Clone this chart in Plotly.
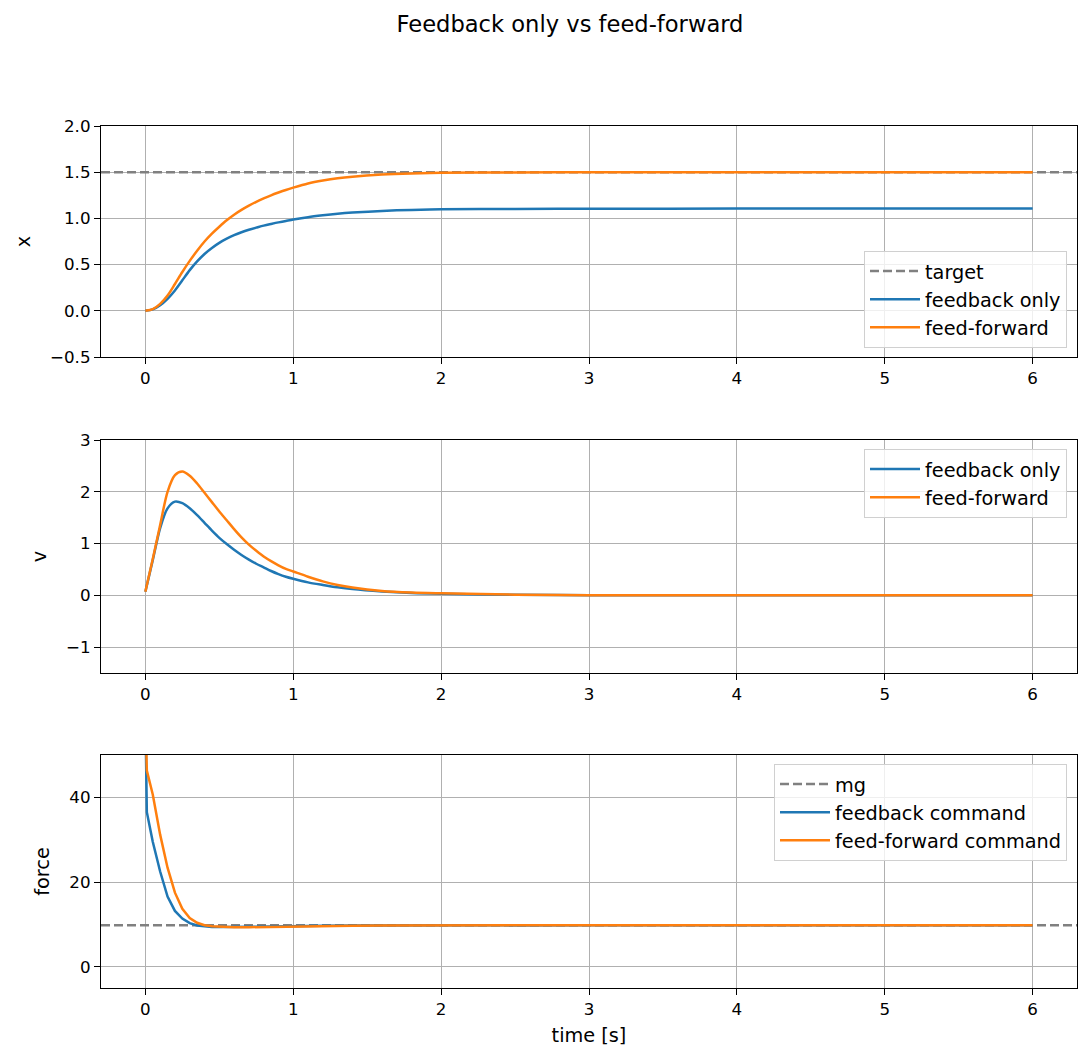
import plotly.graph_objects as go
from plotly.subplots import make_subplots

# ---- data ----
t = [0, 0.05, 0.1, 0.15, 0.2, 0.25, 0.3, 0.35, 0.4, 0.45, 0.5, 0.55, 0.6, 0.65, 0.7,
     0.75, 0.8, 0.85, 0.9, 0.95, 1.0, 1.1, 1.2, 1.3, 1.4, 1.6, 1.8, 2.0, 2.5, 3.0,
     4.0, 5.0, 6.0]

x_feedback = [0, 0.015, 0.06, 0.13, 0.22, 0.33, 0.44, 0.535, 0.615, 0.68, 0.735, 0.78,
              0.818, 0.85, 0.877, 0.9, 0.922, 0.94, 0.957, 0.972, 0.987, 1.013, 1.033,
              1.05, 1.063, 1.081, 1.092, 1.098, 1.103, 1.105, 1.106, 1.106, 1.106]
x_feedforward = [0, 0.018, 0.075, 0.165, 0.29, 0.42, 0.54, 0.65, 0.75, 0.835, 0.91,
                 0.98, 1.04, 1.092, 1.138, 1.18, 1.216, 1.25, 1.28, 1.308, 1.333, 1.378,
                 1.41, 1.435, 1.452, 1.474, 1.486, 1.493, 1.498, 1.5, 1.5, 1.5, 1.5]

v_feedback = [0.07, 0.68, 1.30, 1.68, 1.81, 1.78, 1.68, 1.55, 1.40, 1.25, 1.11, 0.99,
              0.88, 0.78, 0.69, 0.61, 0.54, 0.47, 0.41, 0.36, 0.32, 0.25, 0.20, 0.155,
              0.12, 0.075, 0.045, 0.03, 0.01, 0.003, 0.0, 0.0, 0.0]
v_feedforward = [0.07, 0.70, 1.36, 2.0, 2.32, 2.39, 2.31, 2.16, 1.98, 1.80, 1.62, 1.45,
                 1.28, 1.12, 0.98, 0.86, 0.75, 0.66, 0.58, 0.51, 0.46, 0.36, 0.27, 0.20,
                 0.15, 0.085, 0.055, 0.04, 0.012, 0.004, 0.0, 0.0, 0.0]

t_force = [0, 0.01, 0.05, 0.1, 0.15, 0.2, 0.25, 0.3, 0.35, 0.4, 0.45, 0.5, 0.6, 0.7,
           0.8, 0.9, 1.0, 1.2, 1.4, 1.6, 1.8, 2.0, 2.5, 3.0, 4.0, 5.0, 6.0]
f_feedback = [60, 36.5, 29.5, 22.5, 16.6, 13.2, 11.4, 10.3, 9.75, 9.5, 9.4, 9.38, 9.4,
              9.45, 9.5, 9.55, 9.6, 9.68, 9.73, 9.76, 9.78, 9.79, 9.8, 9.81, 9.81, 9.81, 9.81]
f_feedforward = [60, 46.3, 40.7, 31.2, 23.4, 17.5, 13.7, 11.5, 10.4, 9.8, 9.55, 9.42,
                 9.33, 9.35, 9.42, 9.5, 9.56, 9.66, 9.72, 9.76, 9.78, 9.8, 9.81, 9.81,
                 9.81, 9.81, 9.81]

target = 1.5
mg = 9.81

x_range = [-0.3, 6.3]
x_ticks = [0, 1, 2, 3, 4, 5, 6]
pos_ticks = [-0.5, 0.0, 0.5, 1.0, 1.5, 2.0]
vel_ticks = [-1, 0, 1, 2, 3]
force_ticks = [0, 20, 40]

# ---- styling ----
BLUE = "#1f77b4"
ORANGE = "#ff7f0e"
GRAY = "#808080"
FONT = "DejaVu Sans"
FS = 19.3       # legend / axis labels
TFS = 16.7      # tick labels
LW = 2.5
DASH = "9px,4px"

W, H = 1092, 1061
L, R, T, B = 101, 15, 126, 73
ph = H - T - B
pw = W - L - R


def ydom(top_px, bot_px):
    return [(H - B - bot_px) / ph, (H - B - top_px) / ph]


fig = make_subplots(rows=3, cols=1)

smooth = dict(shape="spline", smoothing=0.8)

fig.add_trace(go.Scatter(x=x_range, y=[target, target], mode="lines", name="target",
                         line=dict(color=GRAY, width=LW, dash=DASH), legend="legend"),
              row=1, col=1)
fig.add_trace(go.Scatter(x=t, y=x_feedback, mode="lines", name="feedback only",
                         line=dict(color=BLUE, width=LW, **smooth), legend="legend"),
              row=1, col=1)
fig.add_trace(go.Scatter(x=t, y=x_feedforward, mode="lines", name="feed-forward",
                         line=dict(color=ORANGE, width=LW, **smooth), legend="legend"),
              row=1, col=1)
fig.add_trace(go.Scatter(x=t, y=v_feedback, mode="lines", name="feedback only",
                         line=dict(color=BLUE, width=LW, **smooth), legend="legend2"),
              row=2, col=1)
fig.add_trace(go.Scatter(x=t, y=v_feedforward, mode="lines", name="feed-forward",
                         line=dict(color=ORANGE, width=LW, **smooth), legend="legend2"),
              row=2, col=1)
fig.add_trace(go.Scatter(x=x_range, y=[mg, mg], mode="lines", name="mg",
                         line=dict(color=GRAY, width=LW, dash=DASH), legend="legend3"),
              row=3, col=1)
fig.add_trace(go.Scatter(x=t_force, y=f_feedback, mode="lines", name="feedback command",
                         line=dict(color=BLUE, width=LW), legend="legend3"), row=3, col=1)
fig.add_trace(go.Scatter(x=t_force, y=f_feedforward, mode="lines",
                         name="feed-forward command",
                         line=dict(color=ORANGE, width=LW), legend="legend3"), row=3, col=1)

axis_common = dict(showline=True, linecolor="black", linewidth=1.2, mirror=True,
                   ticks="outside", ticklen=6, tickwidth=1.2, tickcolor="black",
                   showgrid=True, gridcolor="#b0b0b0", gridwidth=1.3, zeroline=False,
                   tickfont=dict(family=FONT, size=TFS, color="black"))

for i in (1, 2, 3):
    fig.update_xaxes(range=x_range, tickvals=x_ticks, domain=[0, 1], row=i, col=1,
                     **axis_common)

fig.update_xaxes(title=dict(text="time [s]", font=dict(family=FONT, size=FS, color="black"),
                            standoff=10), row=3, col=1)

fig.update_yaxes(range=[-0.5, 2.0], tickvals=pos_ticks, tickformat=".1f",
                 domain=ydom(126, 357), row=1, col=1, **axis_common,
                 title=dict(text="x", font=dict(family=FONT, size=FS, color="black"),
                            standoff=14))
fig.update_yaxes(range=[-1.5, 3.0], tickvals=vel_ticks, domain=ydom(440, 673),
                 row=2, col=1, **axis_common,
                 title=dict(text="v", font=dict(family=FONT, size=FS, color="black"),
                            standoff=14))
fig.update_yaxes(range=[-5, 50], tickvals=force_ticks, domain=ydom(755, 988),
                 row=3, col=1, **axis_common,
                 title=dict(text="force", font=dict(family=FONT, size=FS, color="black"),
                            standoff=14))

legend_style = dict(bgcolor="rgba(255,255,255,0.8)", bordercolor="#d0d0d0", borderwidth=1,
                    font=dict(family=FONT, size=FS, color="black"), xref="paper",
                    yref="paper", xanchor="right", traceorder="normal", itemwidth=50)

fig.update_layout(
    width=W, height=H,
    margin=dict(l=L, r=R, t=T, b=B),
    paper_bgcolor="white", plot_bgcolor="white",
    font=dict(family=FONT, size=FS, color="black"),
    title=dict(text="Feedback only vs feed-forward", x=570 / W, xanchor="center",
               y=1 - 24 / H, yanchor="middle", xref="container", yref="container",
               font=dict(family=FONT, size=22.6, color="black")),
    legend=dict(**legend_style, x=(1067 - L) / pw, y=(H - B - 348) / ph,
                yanchor="bottom"),
    legend2=dict(**legend_style, x=(1067 - L) / pw, y=(H - B - 449) / ph,
                 yanchor="top"),
    legend3=dict(**legend_style, x=(1067 - L) / pw, y=(H - B - 764) / ph,
                 yanchor="top"),
)

fig.write_html("out.html")
